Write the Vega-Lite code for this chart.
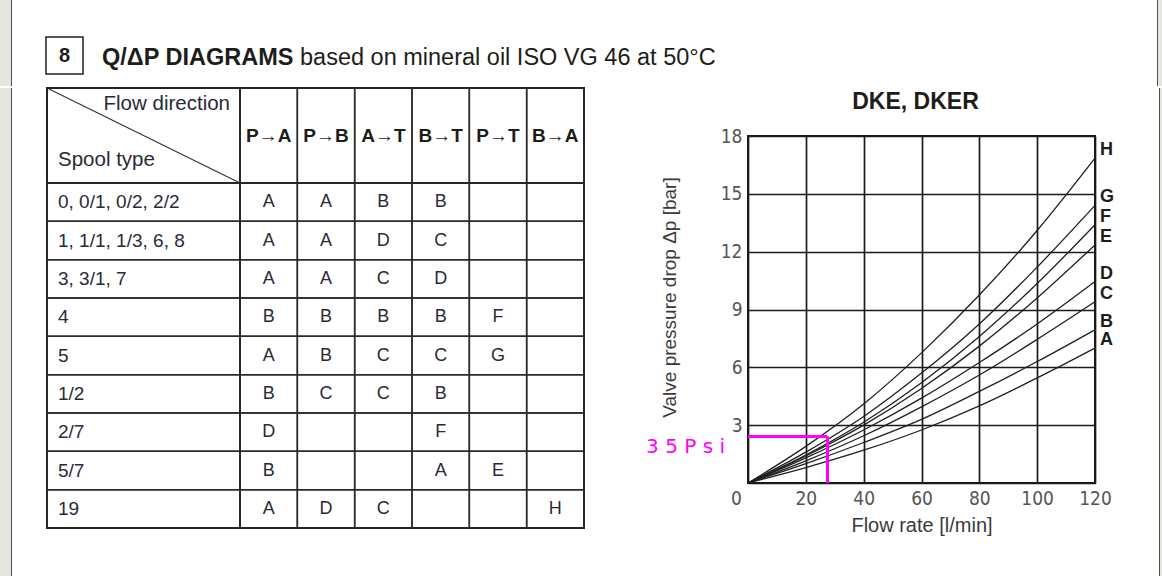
{
  "$schema": "https://vega.github.io/schema/vega-lite/v6.json",
  "padding": 0,
  "background": "white",
  "spacing": 0,
  "config": {
    "view": {"stroke": null},
    "font": "Liberation Sans",
    "text": {"color": "#222222"}
  },
  "datasets": {
    "dirs": [
      {"dir": "P→A"}, {"dir": "P→B"}, {"dir": "A→T"}, {"dir": "B→T"}, {"dir": "P→T"}, {"dir": "B→A"}
    ],
    "spools": [
      {"spool": "0, 0/1, 0/2, 2/2"},
      {"spool": "1, 1/1, 1/3, 6, 8"},
      {"spool": "3, 3/1, 7"},
      {"spool": "4"},
      {"spool": "5"},
      {"spool": "1/2"},
      {"spool": "2/7"},
      {"spool": "5/7"},
      {"spool": "19"}
    ],
    "cells": [
      {"spool": "0, 0/1, 0/2, 2/2", "dir": "P→A", "curve": "A"},
      {"spool": "0, 0/1, 0/2, 2/2", "dir": "P→B", "curve": "A"},
      {"spool": "0, 0/1, 0/2, 2/2", "dir": "A→T", "curve": "B"},
      {"spool": "0, 0/1, 0/2, 2/2", "dir": "B→T", "curve": "B"},
      {"spool": "0, 0/1, 0/2, 2/2", "dir": "P→T", "curve": ""},
      {"spool": "0, 0/1, 0/2, 2/2", "dir": "B→A", "curve": ""},
      {"spool": "1, 1/1, 1/3, 6, 8", "dir": "P→A", "curve": "A"},
      {"spool": "1, 1/1, 1/3, 6, 8", "dir": "P→B", "curve": "A"},
      {"spool": "1, 1/1, 1/3, 6, 8", "dir": "A→T", "curve": "D"},
      {"spool": "1, 1/1, 1/3, 6, 8", "dir": "B→T", "curve": "C"},
      {"spool": "1, 1/1, 1/3, 6, 8", "dir": "P→T", "curve": ""},
      {"spool": "1, 1/1, 1/3, 6, 8", "dir": "B→A", "curve": ""},
      {"spool": "3, 3/1, 7", "dir": "P→A", "curve": "A"},
      {"spool": "3, 3/1, 7", "dir": "P→B", "curve": "A"},
      {"spool": "3, 3/1, 7", "dir": "A→T", "curve": "C"},
      {"spool": "3, 3/1, 7", "dir": "B→T", "curve": "D"},
      {"spool": "3, 3/1, 7", "dir": "P→T", "curve": ""},
      {"spool": "3, 3/1, 7", "dir": "B→A", "curve": ""},
      {"spool": "4", "dir": "P→A", "curve": "B"},
      {"spool": "4", "dir": "P→B", "curve": "B"},
      {"spool": "4", "dir": "A→T", "curve": "B"},
      {"spool": "4", "dir": "B→T", "curve": "B"},
      {"spool": "4", "dir": "P→T", "curve": "F"},
      {"spool": "4", "dir": "B→A", "curve": ""},
      {"spool": "5", "dir": "P→A", "curve": "A"},
      {"spool": "5", "dir": "P→B", "curve": "B"},
      {"spool": "5", "dir": "A→T", "curve": "C"},
      {"spool": "5", "dir": "B→T", "curve": "C"},
      {"spool": "5", "dir": "P→T", "curve": "G"},
      {"spool": "5", "dir": "B→A", "curve": ""},
      {"spool": "1/2", "dir": "P→A", "curve": "B"},
      {"spool": "1/2", "dir": "P→B", "curve": "C"},
      {"spool": "1/2", "dir": "A→T", "curve": "C"},
      {"spool": "1/2", "dir": "B→T", "curve": "B"},
      {"spool": "1/2", "dir": "P→T", "curve": ""},
      {"spool": "1/2", "dir": "B→A", "curve": ""},
      {"spool": "2/7", "dir": "P→A", "curve": "D"},
      {"spool": "2/7", "dir": "P→B", "curve": ""},
      {"spool": "2/7", "dir": "A→T", "curve": ""},
      {"spool": "2/7", "dir": "B→T", "curve": "F"},
      {"spool": "2/7", "dir": "P→T", "curve": ""},
      {"spool": "2/7", "dir": "B→A", "curve": ""},
      {"spool": "5/7", "dir": "P→A", "curve": "B"},
      {"spool": "5/7", "dir": "P→B", "curve": ""},
      {"spool": "5/7", "dir": "A→T", "curve": ""},
      {"spool": "5/7", "dir": "B→T", "curve": "A"},
      {"spool": "5/7", "dir": "P→T", "curve": "E"},
      {"spool": "5/7", "dir": "B→A", "curve": ""},
      {"spool": "19", "dir": "P→A", "curve": "A"},
      {"spool": "19", "dir": "P→B", "curve": "D"},
      {"spool": "19", "dir": "A→T", "curve": "C"},
      {"spool": "19", "dir": "B→T", "curve": ""},
      {"spool": "19", "dir": "P→T", "curve": ""},
      {"spool": "19", "dir": "B→A", "curve": "H"}
    ],
    "curves": [
      {"curve": "H", "q": 0, "dp": 0}, {"curve": "H", "q": 20, "dp": 1.9}, {"curve": "H", "q": 40, "dp": 4.1}, {"curve": "H", "q": 60, "dp": 6.75}, {"curve": "H", "q": 80, "dp": 9.75}, {"curve": "H", "q": 100, "dp": 13.1}, {"curve": "H", "q": 120, "dp": 16.85},
      {"curve": "G", "q": 0, "dp": 0}, {"curve": "G", "q": 20, "dp": 1.6}, {"curve": "G", "q": 40, "dp": 3.45}, {"curve": "G", "q": 60, "dp": 5.7}, {"curve": "G", "q": 80, "dp": 8.25}, {"curve": "G", "q": 100, "dp": 11.2}, {"curve": "G", "q": 120, "dp": 14.4},
      {"curve": "F", "q": 0, "dp": 0}, {"curve": "F", "q": 20, "dp": 1.45}, {"curve": "F", "q": 40, "dp": 3.15}, {"curve": "F", "q": 60, "dp": 5.2}, {"curve": "F", "q": 80, "dp": 7.6}, {"curve": "F", "q": 100, "dp": 10.35}, {"curve": "F", "q": 120, "dp": 13.4},
      {"curve": "E", "q": 0, "dp": 0}, {"curve": "E", "q": 20, "dp": 1.4}, {"curve": "E", "q": 40, "dp": 3.0}, {"curve": "E", "q": 60, "dp": 4.9}, {"curve": "E", "q": 80, "dp": 7.1}, {"curve": "E", "q": 100, "dp": 9.6}, {"curve": "E", "q": 120, "dp": 12.35},
      {"curve": "D", "q": 0, "dp": 0}, {"curve": "D", "q": 20, "dp": 1.3}, {"curve": "D", "q": 40, "dp": 2.75}, {"curve": "D", "q": 60, "dp": 4.4}, {"curve": "D", "q": 80, "dp": 6.25}, {"curve": "D", "q": 100, "dp": 8.25}, {"curve": "D", "q": 120, "dp": 10.45},
      {"curve": "C", "q": 0, "dp": 0}, {"curve": "C", "q": 20, "dp": 1.15}, {"curve": "C", "q": 40, "dp": 2.45}, {"curve": "C", "q": 60, "dp": 3.95}, {"curve": "C", "q": 80, "dp": 5.6}, {"curve": "C", "q": 100, "dp": 7.45}, {"curve": "C", "q": 120, "dp": 9.4},
      {"curve": "B", "q": 0, "dp": 0}, {"curve": "B", "q": 20, "dp": 1.0}, {"curve": "B", "q": 40, "dp": 2.1}, {"curve": "B", "q": 60, "dp": 3.3}, {"curve": "B", "q": 80, "dp": 4.75}, {"curve": "B", "q": 100, "dp": 6.3}, {"curve": "B", "q": 120, "dp": 7.95},
      {"curve": "A", "q": 0, "dp": 0}, {"curve": "A", "q": 20, "dp": 0.8}, {"curve": "A", "q": 40, "dp": 1.7}, {"curve": "A", "q": 60, "dp": 2.75}, {"curve": "A", "q": 80, "dp": 4.0}, {"curve": "A", "q": 100, "dp": 5.45}, {"curve": "A", "q": 120, "dp": 7.0}
    ],
    "marker": [
      {"q": 27.5, "dp": 2.41, "label": "3 5  P s i"}
    ]
  },
  "vconcat": [
    {
      "spacing": 0,
      "hconcat": [
        {"data": {"values": [{}]}, "width": 11, "height": 86, "view": {"fill": "#e6e6de"}, "mark": {"type": "text", "fontSize": 0}, "encoding": {"text": {"value": ""}}},
        {"data": {"values": [{}]}, "width": 1, "height": 86, "view": {"fill": "#505050"}, "mark": {"type": "text", "fontSize": 0}, "encoding": {"text": {"value": ""}}},
        {"data": {"values": [{}]}, "width": 33, "height": 20, "mark": {"type": "text", "fontSize": 0}, "encoding": {"text": {"value": ""}}},
        {
          "spacing": 0,
          "vconcat": [
            {"data": {"values": [{}]}, "width": 1, "height": 36, "mark": {"type": "text", "fontSize": 0}, "encoding": {"text": {"value": ""}}},
            {
              "spacing": 19,
              "bounds": "flush",
              "hconcat": [
                {
                  "data": {"values": [{}]},
                  "width": 37,
                  "height": 37,
                  "view": {"stroke": "#222222", "strokeWidth": 1.5},
                  "mark": {"type": "text", "fontSize": 20, "fontWeight": "bold", "color": "#1d1d1b", "baseline": "middle"},
                  "encoding": {"text": {"value": "8"}}
                },
                {
                  "data": {"values": [{}]},
                  "width": 179,
                  "height": 37,
                  "mark": {"type": "text", "fontSize": 23.5, "fontWeight": "bold", "color": "#1d1d1b", "align": "left", "baseline": "alphabetic", "dy": 9},
                  "encoding": {"x": {"datum": 0, "type": "quantitative", "scale": {"domain": [0, 1]}, "axis": null}, "text": {"value": "Q/ΔP DIAGRAMS"}}
                },
                {
                  "data": {"values": [{}]},
                  "width": 440,
                  "height": 37,
                  "mark": {"type": "text", "fontSize": 23.5, "color": "#1d1d1b", "align": "left", "baseline": "alphabetic", "dy": 9},
                  "encoding": {"x": {"datum": 0, "type": "quantitative", "scale": {"domain": [0, 1]}, "axis": null}, "text": {"value": "based on mineral oil ISO VG 46 at 50°C"}}
                }
              ]
            }
          ]
        },
        {"data": {"values": [{}]}, "width": 417, "height": 20, "mark": {"type": "text", "fontSize": 0}, "encoding": {"text": {"value": ""}}},
        {"data": {"values": [{}]}, "width": 1, "height": 86, "view": {"fill": "#505050"}, "mark": {"type": "text", "fontSize": 0}, "encoding": {"text": {"value": ""}}},
        {"data": {"values": [{}]}, "width": 4, "height": 86, "view": {"fill": "#e6e6de"}, "mark": {"type": "text", "fontSize": 0}, "encoding": {"text": {"value": ""}}}
      ]
    },
    {
      "spacing": 0,
      "hconcat": [
        {"data": {"values": [{}]}, "width": 11, "height": 490, "view": {"fill": "#e6e6de"}, "mark": {"type": "text", "fontSize": 0}, "encoding": {"text": {"value": ""}}},
        {"data": {"values": [{}]}, "width": 1, "height": 490, "view": {"fill": "#505050"}, "mark": {"type": "text", "fontSize": 0}, "encoding": {"text": {"value": ""}}},
        {"data": {"values": [{}]}, "width": 33, "height": 20, "mark": {"type": "text", "fontSize": 0}, "encoding": {"text": {"value": ""}}},
        {
          "columns": 2,
          "align": "each",
          "bounds": "flush",
          "spacing": 0,
          "concat": [
            {
              "data": {"values": [{}]},
              "width": 193,
              "height": 95,
              "view": {"stroke": "#222222", "strokeWidth": 2},
              "layer": [
                {
                  "mark": {"type": "rule", "color": "#333333", "strokeWidth": 1.2},
                  "encoding": {
                    "x": {"datum": 0, "type": "quantitative", "scale": {"domain": [0, 1]}, "axis": null},
                    "x2": {"datum": 1},
                    "y": {"datum": 1, "type": "quantitative", "scale": {"domain": [0, 1]}, "axis": null},
                    "y2": {"datum": 0}
                  }
                },
                {
                  "mark": {"type": "text", "fontSize": 20.5, "color": "#2a2a35", "align": "right", "baseline": "top", "dx": -10, "dy": 6},
                  "encoding": {"x": {"datum": 1, "type": "quantitative"}, "y": {"datum": 1, "type": "quantitative"}, "text": {"value": "Flow direction"}}
                },
                {
                  "mark": {"type": "text", "fontSize": 20.5, "color": "#2a2a35", "align": "left", "baseline": "alphabetic", "dx": 11, "dy": -17},
                  "encoding": {"x": {"datum": 0, "type": "quantitative"}, "y": {"datum": 0, "type": "quantitative"}, "text": {"value": "Spool type"}}
                }
              ]
            },
            {
              "data": {"name": "dirs"},
              "width": 344,
              "height": 95,
              "view": {"stroke": "#222222", "strokeWidth": 2},
              "encoding": {
                "x": {"field": "dir", "type": "nominal", "sort": null, "scale": {"paddingInner": 0, "paddingOuter": 0}, "axis": null}
              },
              "layer": [
                {"mark": {"type": "rect", "fill": "transparent", "stroke": "#2a2a2a", "strokeWidth": 1.5}},
                {"mark": {"type": "text", "fontSize": 19, "fontWeight": "bold", "color": "#1d1d1b"}, "encoding": {"text": {"field": "dir", "type": "nominal"}}}
              ]
            },
            {
              "data": {"name": "spools"},
              "width": 193,
              "height": 345,
              "view": {"stroke": "#222222", "strokeWidth": 2},
              "encoding": {
                "y": {"field": "spool", "type": "nominal", "sort": null, "scale": {"paddingInner": 0, "paddingOuter": 0}, "axis": null}
              },
              "layer": [
                {"mark": {"type": "rect", "fill": "transparent", "stroke": "#2a2a2a", "strokeWidth": 1.5}},
                {
                  "mark": {"type": "text", "fontSize": 19, "color": "#2a2a35", "align": "left", "dx": 11},
                  "encoding": {"x": {"datum": 0, "type": "quantitative", "scale": {"domain": [0, 1]}, "axis": null}, "text": {"field": "spool", "type": "nominal"}}
                }
              ]
            },
            {
              "data": {"name": "cells"},
              "width": 344,
              "height": 345,
              "view": {"stroke": "#222222", "strokeWidth": 2},
              "encoding": {
                "x": {"field": "dir", "type": "nominal", "sort": null, "scale": {"paddingInner": 0, "paddingOuter": 0}, "axis": null},
                "y": {"field": "spool", "type": "nominal", "sort": null, "scale": {"paddingInner": 0, "paddingOuter": 0}, "axis": null}
              },
              "layer": [
                {"mark": {"type": "rect", "fill": "transparent", "stroke": "#2a2a2a", "strokeWidth": 1.5}},
                {"mark": {"type": "text", "fontSize": 18, "color": "#2a2a35"}, "encoding": {"text": {"field": "curve", "type": "nominal"}}}
              ]
            }
          ]
        },
        {"data": {"values": [{}]}, "width": 52, "height": 20, "mark": {"type": "text", "fontSize": 0}, "encoding": {"text": {"value": ""}}},
        {
          "spacing": 0,
          "vconcat": [
            {"data": {"values": [{}]}, "width": 1, "height": 2, "mark": {"type": "text", "fontSize": 0}, "encoding": {"text": {"value": ""}}},
            {
              "width": 347,
              "height": 347,
              "view": {"stroke": "#1a1a1a", "strokeWidth": 2},
              "title": {"text": "DKE, DKER", "font": "Liberation Sans", "fontSize": 23, "fontWeight": "bold", "color": "#1d1d1b", "offset": 13, "frame": "group", "dx": -6},
              "layer": [
                {
                  "data": {"name": "curves"},
                  "mark": {"type": "line", "color": "#1f1f1f", "strokeWidth": 1.3, "interpolate": "monotone"},
                  "encoding": {
                    "x": {
                      "field": "q",
                      "type": "quantitative",
                      "scale": {"domain": [0, 120], "nice": false},
                      "axis": {
                        "values": [0, 20, 40, 60, 80, 100, 120],
                        "grid": true,
                        "gridColor": "#1a1a1a",
                        "gridWidth": 1.7,
                        "gridOpacity": 1,
                        "ticks": false,
                        "domain": false,
                        "labelFlush": false,
                        "labelFont": "Liberation Sans Narrow, DejaVu Sans Condensed, Liberation Sans, sans-serif",
                        "labelFontSize": 19,
                        "labelColor": "#555555",
                        "labelPadding": 6,
                        "labelOffset": {"condition": {"test": "datum.value === 0", "value": -12}, "value": 0},
                        "title": "Flow rate [l/min]",
                        "titleFont": "Liberation Sans",
                        "titleFontSize": 20,
                        "titleFontWeight": "normal",
                        "titleColor": "#3a3a3a",
                        "titlePadding": 7
                      }
                    },
                    "y": {
                      "field": "dp",
                      "type": "quantitative",
                      "scale": {"domain": [0, 18], "nice": false},
                      "axis": {
                        "values": [0, 3, 6, 9, 12, 15, 18],
                        "labelExpr": "datum.value === 0 ? '' : datum.label",
                        "grid": true,
                        "gridColor": "#1a1a1a",
                        "gridWidth": 1.7,
                        "gridOpacity": 1,
                        "ticks": false,
                        "domain": false,
                        "labelFont": "Liberation Sans Narrow, DejaVu Sans Condensed, Liberation Sans, sans-serif",
                        "labelFontSize": 19,
                        "labelColor": "#555555",
                        "labelPadding": 6,
                        "title": "Valve pressure drop Δp [bar]",
                        "titleFont": "Liberation Sans",
                        "titleFontSize": 19,
                        "titleFontWeight": "normal",
                        "titleColor": "#3a3a3a",
                        "titleX": -69,
                        "titleY": 161
                      }
                    },
                    "detail": {"field": "curve", "type": "nominal"}
                  }
                },
                {
                  "data": {"name": "curves"},
                  "transform": [{"filter": "datum.q === 120"}],
                  "mark": {"type": "text", "align": "left", "dx": 5, "dy": -8, "fontSize": 18, "fontWeight": "bold", "color": "#1d1d1b"},
                  "encoding": {
                    "x": {"field": "q", "type": "quantitative"},
                    "y": {"field": "dp", "type": "quantitative"},
                    "text": {"field": "curve", "type": "nominal"}
                  }
                },
                {
                  "data": {"name": "marker"},
                  "mark": {"type": "rule", "color": "#ff00ff", "strokeWidth": 3},
                  "encoding": {
                    "x": {"datum": 0, "type": "quantitative"},
                    "x2": {"field": "q", "type": "quantitative"},
                    "y": {"field": "dp", "type": "quantitative"}
                  }
                },
                {
                  "data": {"name": "marker"},
                  "mark": {"type": "rule", "color": "#ff00ff", "strokeWidth": 3},
                  "encoding": {
                    "x": {"field": "q", "type": "quantitative"},
                    "y": {"datum": 0, "type": "quantitative"},
                    "y2": {"field": "dp", "type": "quantitative"}
                  }
                },
                {
                  "data": {"name": "marker"},
                  "mark": {"type": "text", "align": "right", "baseline": "middle", "dx": -23, "dy": 10, "font": "DejaVu Sans", "fontSize": 20, "color": "#ff00ff"},
                  "encoding": {
                    "x": {"datum": 0, "type": "quantitative"},
                    "y": {"field": "dp", "type": "quantitative"},
                    "text": {"field": "label", "type": "nominal"}
                  }
                }
              ]
            }
          ]
        },
        {"data": {"values": [{}]}, "width": 43, "height": 20, "mark": {"type": "text", "fontSize": 0}, "encoding": {"text": {"value": ""}}},
        {"data": {"values": [{}]}, "width": 1, "height": 490, "view": {"fill": "#505050"}, "mark": {"type": "text", "fontSize": 0}, "encoding": {"text": {"value": ""}}},
        {"data": {"values": [{}]}, "width": 4, "height": 490, "view": {"fill": "#e6e6de"}, "mark": {"type": "text", "fontSize": 0}, "encoding": {"text": {"value": ""}}}
      ]
    }
  ]
}
